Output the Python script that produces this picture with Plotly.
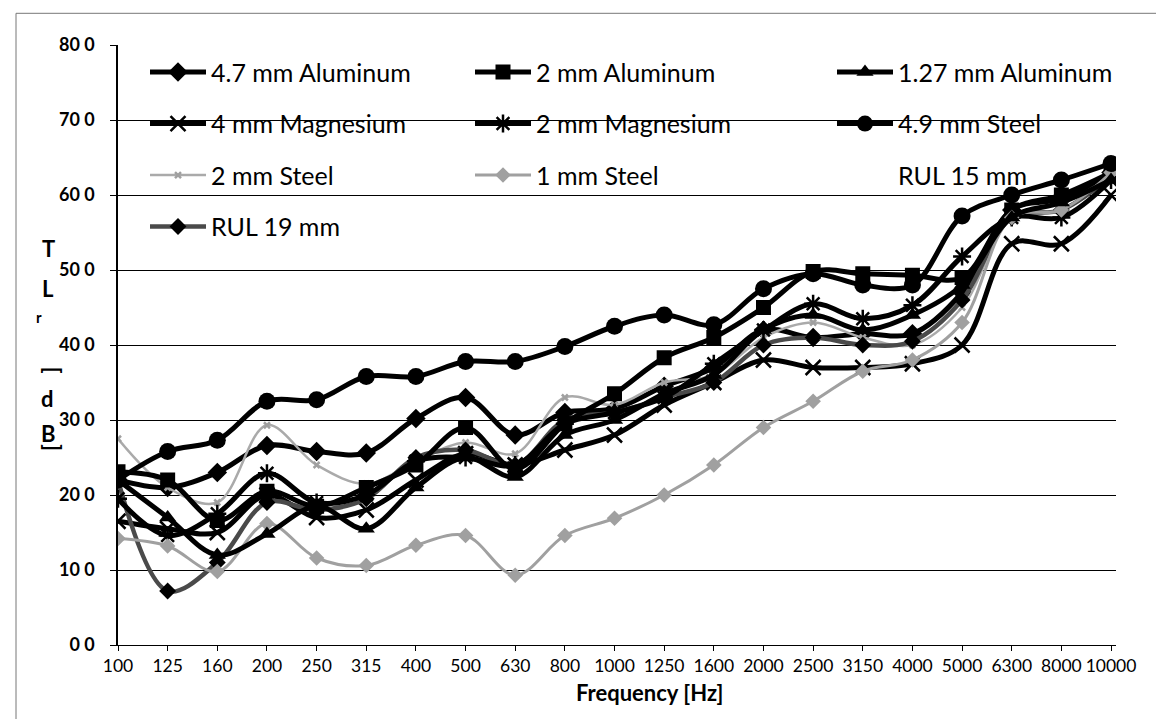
import plotly.graph_objects as go

freqs = ["100", "125", "160", "200", "250", "315", "400", "500", "630", "800", "1000",
         "1250", "1600", "2000", "2500", "3150", "4000", "5000", "6300", "8000", "10000"]

al_4_7 = [22, 21, 23, 26.6, 25.8, 25.6, 30.2, 33, 28, 31, 31.5, 34.5, 37, 42, 41, 41.5, 41.5, 47, 58, 59.5, 63]
al_2 = [23.1, 22, 16.6, 20.5, 18.5, 21, 24, 29, 23.5, 29.5, 33.5, 38.3, 41, 45, 49.8, 49.5, 49.3, 49, 58, 60, 63]
al_1_27 = [22, 17, 12, 14.8, 18.5, 15.5, 21, 25, 22.4, 28, 30, 33.5, 36, 42, 44, 42, 44, 48, 57, 59, 62]
mg_4 = [16.5, 15.5, 15, 20, 17, 18, 22, 25.5, 24, 26, 28, 32, 35, 38, 37, 37, 37.5, 40, 53.5, 53.5, 60]
mg_2 = [19.5, 14.6, 17.5, 22.9, 19, 20, 24.5, 25, 24, 29.5, 31, 33, 37.5, 42, 45.5, 43.5, 45.3, 51.8, 57, 57, 62]
steel_4_9 = [22, 25.8, 27.3, 32.5, 32.7, 35.8, 35.8, 37.8, 37.8, 39.8, 42.5, 44, 42.7, 47.5, 49.5, 48, 48, 57.2, 60, 62, 64.2]
steel_2 = [27.5, 21, 19, 29.3, 24, 21.5, 24.5, 27, 25.5, 33, 32, 35, 36, 41, 43, 41, 40, 45, 57, 58, 63]
steel_1 = [14.2, 13.2, 9.8, 16.2, 11.6, 10.6, 13.3, 14.6, 9.3, 14.6, 16.9, 20, 24, 29, 32.5, 36.5, 38, 43, 57, 58, 63]
rul_15 = [21, 18, 15.5, 17, 16.5, 17, 22, 24, 23, 27, 30, 32, 34, 39, 40, 39, 40, 44, 56, 58, 62]
rul_19 = [22, 7.2, 11, 19, 18, 19.5, 25, 26, 24, 30, 31, 33, 35, 40, 41, 40, 40.5, 46, 57, 58, 62.5]

y_ticks = [0, 10, 20, 30, 40, 50, 60, 70, 80]
y_tick_text = ["0 0", "10 0", "20 0", "30 0", "40 0", "50 0", "60 0", "70 0", "80 0"]

# (name, data, line color, line width, marker symbol, marker color, marker size, legend)
series = [
    ("4.7 mm Aluminum", al_4_7, "black", 5, "diamond", "black", 15, "legend"),
    ("4 mm Magnesium", mg_4, "black", 5, "x-thin", "black", 15, "legend"),
    ("2 mm Steel", steel_2, "#aaaaaa", 2.5, "x-thin", "#a0a0a0", 6, "legend"),
    ("RUL 19 mm", rul_19, "#4a4a4a", 4.5, "diamond", "black", 13, "legend"),
    ("2 mm Aluminum", al_2, "black", 5, "square", "black", 15, "legend2"),
    ("2 mm Magnesium", mg_2, "black", 5, "asterisk", "black", 15, "legend2"),
    ("1 mm Steel", steel_1, "#a0a0a0", 3, "diamond", "#a0a0a0", 12, "legend2"),
    ("1.27 mm Aluminum", al_1_27, "black", 5, "triangle-up", "black", 15, "legend3"),
    ("4.9 mm Steel", steel_4_9, "black", 5, "circle", "black", 17, "legend3"),
    ("RUL 15 mm", rul_15, "rgba(0,0,0,0)", 0, None, None, 0, "legend3"),
]

fig = go.Figure()
for name, vals, lc, lw, sym, mc, ms, leg in series:
    if sym is None:
        fig.add_trace(go.Scatter(x=freqs, y=vals, name=name, mode="lines",
                                 line=dict(color=lc, width=lw, shape="spline"),
                                 legend=leg, legendgroup=name, showlegend=True))
        continue
    mline = dict(color=mc, width=2.5) if sym in ("x-thin", "asterisk") else dict(width=0)
    fig.add_trace(go.Scatter(
        x=freqs, y=vals, name=name, mode="lines+markers",
        line=dict(color=lc, width=lw, shape="spline", smoothing=1.0),
        marker=dict(symbol=sym, color=mc, size=ms, line=mline),
        legend=leg, legendgroup=name,
    ))

# pixel helpers for paper coordinates
L, R, T, B = 110, 1108, 36.7, 636.7
def px(x):
    return (x - L) / (R - L)
def py(y):
    return (B - y) / (B - T)

leg_common = dict(font=dict(family="Lato", size=25, color="black"), bgcolor="rgba(0,0,0,0)",
                  orientation="v", yanchor="top", xanchor="left", itemwidth=56,
                  tracegroupgap=16, itemclick=False, itemdoubleclick=False)

fig.update_layout(
    width=1164, height=719,
    margin=dict(l=L, r=1164 - R, t=T, b=719 - B),
    paper_bgcolor="white", plot_bgcolor="white",
    font=dict(family="Lato", color="black"),
    showlegend=True,
    legend=dict(x=px(137), y=py(41), **leg_common),
    legend2=dict(x=px(462), y=py(41), **leg_common),
    legend3=dict(x=px(824), y=py(41), **leg_common),
    xaxis=dict(type="category", range=[0, 20.1], showgrid=False, showline=True,
               linecolor="black", linewidth=1, ticks="outside", ticklen=5,
               tickcolor="black", tickfont=dict(family="Lato", size=17.5, color="black"),
               tickangle=0, zeroline=False),
    yaxis=dict(range=[0, 80], tickvals=y_ticks, ticktext=y_tick_text,
               showgrid=True, gridcolor="black", gridwidth=1.3, showline=True,
               linecolor="black", linewidth=1.5, ticks="outside", ticklen=6,
               tickcolor="black", ticklabelstandoff=12,
               tickfont=dict(family="Lato", size=18, color="black", weight="bold"),
               zeroline=False),
)

ann = [
    ("T", 32, 240, 22, 0), ("L", 32, 280, 22, 0), ("r", 26, 309, 15, 0),
    ("[", 30, 362, 22, 90), ("d", 31, 390, 22, 0), ("B", 31, 425, 22, 0), ("]", 30, 445, 22, 90),
]
for txt, x, y, s, ang in ann:
    fig.add_annotation(text=txt, x=px(x), y=py(y), xref="paper", yref="paper",
                       showarrow=False, textangle=ang,
                       font=dict(family="Lato", size=s, color="black", weight="bold"))
fig.add_annotation(text="Frequency [Hz]", x=px(641), y=py(700), xref="paper", yref="paper",
                   showarrow=False, font=dict(family="Lato", size=22, color="black", weight="bold"))

fig.add_shape(type="rect", xref="paper", yref="paper", x0=px(8), x1=px(1157), y0=py(712), y1=py(5),
              line=dict(color="#777777", width=1), layer="below")

fig.write_html("out.html")
